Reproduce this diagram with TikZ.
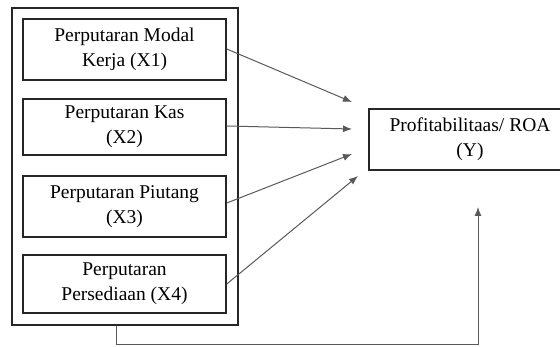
\documentclass[tikz,border=0pt]{standalone}
\usepackage{fontspec}
\setmainfont{Liberation Serif}
\usetikzlibrary{arrows.meta}
\begin{document}
\begin{tikzpicture}[x=1pt,y=-1pt,
  box/.style={draw=black!85, line width=1.5pt, rectangle, align=center, inner sep=0pt,
    font=\fontsize{19.5}{25}\selectfont, text=black},
  conn/.style={draw=black!65, line width=1pt, -{Latex[length=9pt,width=7pt]}}]
\useasboundingbox (0,0) rectangle (560,347);
\clip (0,0) rectangle (560,347);
\node[box, minimum width=226pt, minimum height=317pt] (outer) at (125,166.5) {};
\node[box, minimum width=203pt, minimum height=61pt] (b1) at (124.5,49.5) {Perputaran Modal\\Kerja (X1)};
\node[box, minimum width=203pt, minimum height=56pt] (b2) at (124.5,127) {Perputaran Kas\\(X2)};
\node[box, minimum width=203pt, minimum height=61pt] (b3) at (124.5,206.5) {Perputaran Piutang\\(X3)};
\node[box, minimum width=203pt, minimum height=58pt] (b4) at (124.5,284) {Perputaran\\Persediaan (X4)};
\node[box, minimum width=202pt, minimum height=61pt] (y) at (470,139.5) {Profitabilitaas/ ROA\\(Y)};
\coordinate (t1) at (352,102);
\coordinate (t2) at (352,129);
\coordinate (t3) at (352,154);
\coordinate (t4) at (358,176);
\coordinate (t5) at (478,207);
\coordinate (c1) at (116,345);
\coordinate (c2) at (478,345);
\draw[conn] (b1.east |- 0,49) -- (t1);
\draw[conn] (b2.east |- 0,126) -- (t2);
\draw[conn] (b3.east |- 0,203) -- (t3);
\draw[conn] (b4.east |- 0,284) -- (t4);
\draw[conn] (outer.south -| c1) -- (c1) -- (c2) -- (t5);
\end{tikzpicture}
\end{document}
